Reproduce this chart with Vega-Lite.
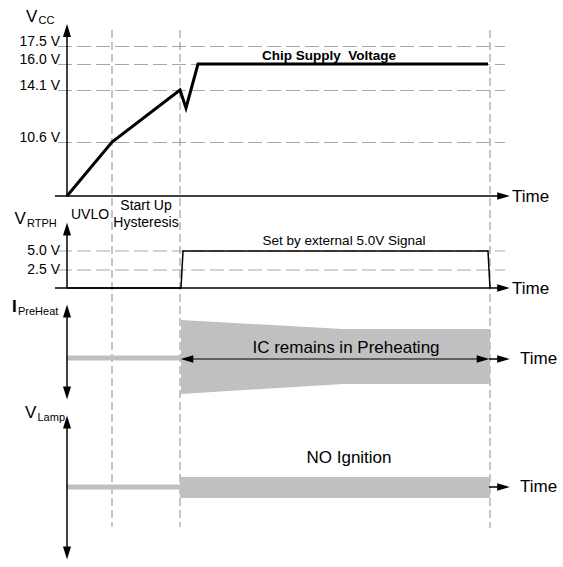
{
  "$schema": "https://vega.github.io/schema/vega-lite/v6.json",
  "width": 563,
  "height": 567,
  "autosize": {"type": "fit", "contains": "padding"},
  "padding": 0,
  "background": "white",
  "config": {"view": {"stroke": null}, "font": "Liberation Sans"},
  "encoding": {
    "x": {"field": "t", "type": "quantitative", "scale": {"domain": [0, 563], "nice": false, "zero": false}, "axis": null},
    "y": {"field": "v", "type": "quantitative", "scale": {"domain": [0, 567], "nice": false, "zero": false, "reverse": true}, "axis": null}
  },
  "layer": [
    {
      "data": {"values": [
        {"t": 58, "t2": 505, "v": 46.5},
        {"t": 58, "t2": 505, "v": 64.5},
        {"t": 58, "t2": 505, "v": 90.5},
        {"t": 58, "t2": 505, "v": 142.5},
        {"t": 58, "t2": 505, "v": 251},
        {"t": 58, "t2": 505, "v": 270}
      ]},
      "mark": {"type": "rule", "color": "#a8a8a8", "strokeWidth": 1.2, "strokeDash": [14, 5]},
      "encoding": {"x2": {"field": "t2"}}
    },
    {
      "data": {"values": [
        {"t": 112, "v": 30, "v2": 527},
        {"t": 180, "v": 30, "v2": 527},
        {"t": 490, "v": 30, "v2": 528}
      ]},
      "mark": {"type": "rule", "color": "#a0a0a0", "strokeWidth": 1.2, "strokeDash": [8, 4]},
      "encoding": {"y2": {"field": "v2"}}
    },
    {
      "data": {"values": [
        {"t": 181, "v": 320, "v2": 394},
        {"t": 343, "v": 329, "v2": 384},
        {"t": 490, "v": 329, "v2": 384}
      ]},
      "mark": {"type": "area", "color": "#c0c0c0", "opacity": 1},
      "encoding": {"y2": {"field": "v2"}}
    },
    {
      "data": {"values": [
        {"t": 180, "t2": 490, "v": 477, "v2": 498}
      ]},
      "mark": {"type": "rect", "color": "#c0c0c0"},
      "encoding": {"x2": {"field": "t2"}, "y2": {"field": "v2"}}
    },
    {
      "data": {"values": [
        {"t": 67, "t2": 181, "v": 358},
        {"t": 67, "t2": 181, "v": 487}
      ]},
      "mark": {"type": "rule", "color": "#c0c0c0", "strokeWidth": 5},
      "encoding": {"x2": {"field": "t2"}}
    },
    {
      "data": {"values": [
        {"t": 67, "t2": 67, "v": 196, "v2": 34},
        {"t": 55, "t2": 500, "v": 196, "v2": 196},
        {"t": 67, "t2": 67, "v": 288, "v2": 233},
        {"t": 55, "t2": 500, "v": 288, "v2": 288},
        {"t": 67, "t2": 67, "v": 314, "v2": 390},
        {"t": 67, "t2": 67, "v": 425, "v2": 550},
        {"t": 489, "t2": 500, "v": 359, "v2": 359},
        {"t": 489, "t2": 500, "v": 487, "v2": 487}
      ]},
      "mark": {"type": "rule", "color": "#000000", "strokeWidth": 1.5},
      "encoding": {"x2": {"field": "t2"}, "y2": {"field": "v2"}}
    },
    {
      "data": {"values": [
        {"t": 190, "t2": 480, "v": 359}
      ]},
      "mark": {"type": "rule", "color": "#000000", "strokeWidth": 1},
      "encoding": {"x2": {"field": "t2"}}
    },
    {
      "data": {"values": [
        {"i": 0, "t": 67, "v": 196},
        {"i": 1, "t": 112, "v": 142},
        {"i": 2, "t": 180, "v": 90},
        {"i": 3, "t": 186, "v": 108},
        {"i": 4, "t": 198, "v": 64},
        {"i": 5, "t": 488, "v": 64}
      ]},
      "mark": {"type": "line", "color": "#000000", "strokeWidth": 3, "strokeJoin": "miter"},
      "encoding": {"order": {"field": "i", "type": "quantitative"}}
    },
    {
      "data": {"values": [
        {"i": 0, "t": 67, "v": 288},
        {"i": 1, "t": 181, "v": 288},
        {"i": 2, "t": 183, "v": 251},
        {"i": 3, "t": 488, "v": 251},
        {"i": 4, "t": 490, "v": 288}
      ]},
      "mark": {"type": "line", "color": "#000000", "strokeWidth": 1.5},
      "encoding": {"order": {"field": "i", "type": "quantitative"}}
    },
    {
      "data": {"values": [
        {"t": 67, "v": 30.5},
        {"t": 67, "v": 229},
        {"t": 67, "v": 311},
        {"t": 67, "v": 422}
      ]},
      "mark": {"type": "point", "shape": "M0,-1L0.62,1L-0.62,1Z", "filled": true, "color": "#000000", "opacity": 1, "size": 169, "strokeWidth": 0}
    },
    {
      "data": {"values": [
        {"t": 67, "v": 393},
        {"t": 67, "v": 553}
      ]},
      "mark": {"type": "point", "shape": "M0,1L0.62,-1L-0.62,-1Z", "filled": true, "color": "#000000", "opacity": 1, "size": 169, "strokeWidth": 0}
    },
    {
      "data": {"values": [
        {"t": 503.5, "v": 196},
        {"t": 503.5, "v": 288},
        {"t": 503.5, "v": 359},
        {"t": 503.5, "v": 487},
        {"t": 483, "v": 359}
      ]},
      "mark": {"type": "point", "shape": "M1,0L-1,0.6L-1,-0.6Z", "filled": true, "color": "#000000", "opacity": 1, "size": 160, "strokeWidth": 0}
    },
    {
      "data": {"values": [
        {"t": 187, "v": 359}
      ]},
      "mark": {"type": "point", "shape": "M-1,0L1,0.6L1,-0.6Z", "filled": true, "color": "#000000", "opacity": 1, "size": 160, "strokeWidth": 0}
    },
    {
      "data": {"values": [
        {"t": 26, "v": 17, "label": "V"},
        {"t": 14.5, "v": 219, "label": "V"},
        {"t": 25, "v": 413, "label": "V"}
      ]},
      "mark": {"type": "text", "align": "left", "baseline": "middle", "fontSize": 17, "font": "Liberation Sans", "color": "#000000"},
      "encoding": {"text": {"field": "label"}}
    },
    {
      "data": {"values": [
        {"t": 12, "v": 307, "label": "I"}
      ]},
      "mark": {"type": "text", "align": "left", "baseline": "middle", "fontSize": 17, "fontWeight": "bold", "font": "Liberation Sans", "color": "#000000"},
      "encoding": {"text": {"field": "label"}}
    },
    {
      "data": {"values": [
        {"t": 38.5, "v": 21, "label": "CC"},
        {"t": 27, "v": 224, "label": "RTPH"},
        {"t": 18, "v": 312, "label": "PreHeat"},
        {"t": 37.5, "v": 418, "label": "Lamp"}
      ]},
      "mark": {"type": "text", "align": "left", "baseline": "middle", "fontSize": 11, "font": "Liberation Sans", "color": "#000000"},
      "encoding": {"text": {"field": "label"}}
    },
    {
      "data": {"values": [
        {"t": 60, "v": 42, "label": "17.5 V"},
        {"t": 60, "v": 59.5, "label": "16.0 V"},
        {"t": 60, "v": 85.5, "label": "14.1 V"},
        {"t": 60, "v": 137.5, "label": "10.6 V"},
        {"t": 60, "v": 251, "label": "5.0 V"},
        {"t": 60, "v": 270, "label": "2.5 V"}
      ]},
      "mark": {"type": "text", "align": "right", "baseline": "middle", "fontSize": 14, "font": "Liberation Sans", "color": "#000000"},
      "encoding": {"text": {"field": "label"}}
    },
    {
      "data": {"values": [
        {"t": 90, "v": 215, "label": "UVLO"},
        {"t": 146, "v": 206, "label": "Start Up"},
        {"t": 146, "v": 223, "label": "Hysteresis"}
      ]},
      "mark": {"type": "text", "align": "center", "baseline": "middle", "fontSize": 14, "font": "Liberation Sans", "color": "#000000"},
      "encoding": {"text": {"field": "label"}}
    },
    {
      "data": {"values": [
        {"t": 512, "v": 197, "label": "Time"},
        {"t": 512, "v": 288.5, "label": "Time"},
        {"t": 520, "v": 359, "label": "Time"},
        {"t": 520, "v": 487, "label": "Time"}
      ]},
      "mark": {"type": "text", "align": "left", "baseline": "middle", "fontSize": 17, "font": "Liberation Sans", "color": "#000000"},
      "encoding": {"text": {"field": "label"}}
    },
    {
      "data": {"values": [
        {"t": 329, "v": 56, "label": "Chip Supply\u00a0 Voltage"}
      ]},
      "mark": {"type": "text", "align": "center", "baseline": "middle", "fontSize": 13.5, "fontWeight": "bold", "font": "Liberation Sans", "color": "#000000"},
      "encoding": {"text": {"field": "label"}}
    },
    {
      "data": {"values": [
        {"t": 344, "v": 241, "label": "Set by external 5.0V Signal"}
      ]},
      "mark": {"type": "text", "align": "center", "baseline": "middle", "fontSize": 13.5, "font": "Liberation Sans", "color": "#000000"},
      "encoding": {"text": {"field": "label"}}
    },
    {
      "data": {"values": [
        {"t": 346, "v": 348, "label": "IC remains in Preheating"},
        {"t": 349, "v": 458, "label": "NO Ignition"}
      ]},
      "mark": {"type": "text", "align": "center", "baseline": "middle", "fontSize": 17, "font": "Liberation Sans", "color": "#000000"},
      "encoding": {"text": {"field": "label"}}
    }
  ]
}
